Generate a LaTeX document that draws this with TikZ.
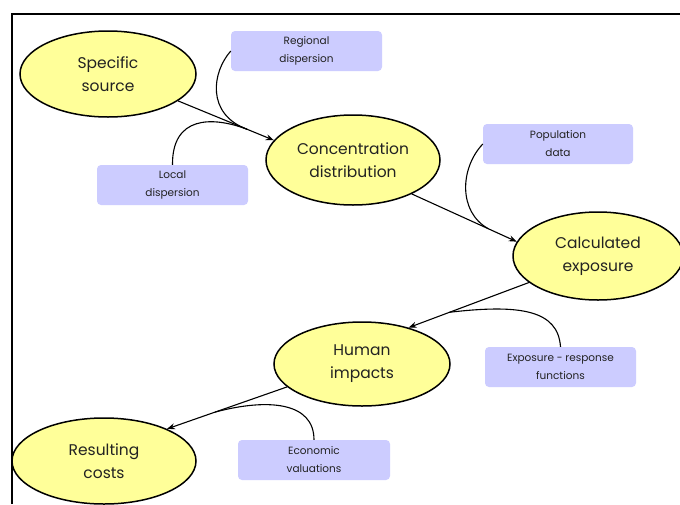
\documentclass[tikz,border=0pt]{standalone}
\usepackage{fontspec}
\setmainfont{Poppins}
\usetikzlibrary{shapes.geometric,arrows.meta,calc}
\definecolor{ellfill}{HTML}{FFFF99}
\definecolor{boxfill}{HTML}{CCCCFF}
\definecolor{txt}{HTML}{222222}
\begin{document}
\begin{tikzpicture}[x=1pt,y=-1pt,
  ell/.style={ellipse,draw=black,line width=1.5pt,fill=ellfill,inner sep=0pt,
     align=center,font=\fontsize{15.5}{23}\selectfont,text=txt},
  infobox/.style={rectangle,rounded corners=4pt,fill=boxfill,inner sep=0pt,
     align=center,font=\fontsize{10.5}{18}\selectfont,text=txt},
  flow/.style={line width=1.1pt,-{Stealth[length=8pt,width=6pt]}},
  feed/.style={line width=1.1pt}]
\useasboundingbox (0,0) rectangle (680,504);
\fill[white] (0,0) rectangle (680,504);
\draw[line width=2.2pt] (12,504) -- (12,14) -- (680,14);

\node[ell,minimum width=176pt,minimum height=86pt] (ss) at (108,74) {Specific\\source};
\node[ell,minimum width=174pt,minimum height=90pt] (cd) at (353,160) {Concentration\\distribution};
\node[ell,minimum width=170pt,minimum height=88pt] (ce) at (598,256) {Calculated\\exposure};
\node[ell,minimum width=176pt,minimum height=84pt] (hi) at (362,364) {Human\\impacts};
\node[ell,minimum width=184pt,minimum height=86pt] (rc) at (104,461) {Resulting\\costs};

\node[infobox,minimum width=151pt,minimum height=40pt] (rd) at (306.5,51) {Regional\\dispersion};
\node[infobox,minimum width=151pt,minimum height=40pt] (ld) at (172.5,185) {Local\\dispersion};
\node[infobox,minimum width=150pt,minimum height=40pt] (pd) at (558,144) {Population\\data};
\node[infobox,minimum width=151pt,minimum height=40pt] (er) at (560.5,367) {Exposure - response\\functions};
\node[infobox,minimum width=152pt,minimum height=40pt] (ev) at (314,460) {Economic\\valuations};

\draw[flow] (ss.-21) -- (cd.166);
\draw[flow] (cd.-30) -- (ce.170);
\draw[flow] (ce.201) -- (hi.38);
\draw[flow] (hi.197) -- (rc.27);

\coordinate (j1) at ($(ss.-21)!0.72!(cd.166)$);
\coordinate (j2) at ($(cd.-30)!0.73!(ce.170)$);
\coordinate (j3) at ($(ce.201)!0.66!(hi.38)$);
\coordinate (j4) at ($(hi.197)!0.6!(rc.27)$);

\draw[feed] (rd.west) .. controls (212,72) and (206,114) .. (j1);
\draw[feed] (ld.north) .. controls (172,116) and (212,116) .. (j1);
\draw[feed] (pd.west) .. controls (460,168) and (458,212) .. (j2);
\draw[feed] (er.north) .. controls (558,310) and (520,304) .. (j3);
\draw[feed] (ev.north) .. controls (314,402) and (268,398) .. (j4);
\end{tikzpicture}
\end{document}
